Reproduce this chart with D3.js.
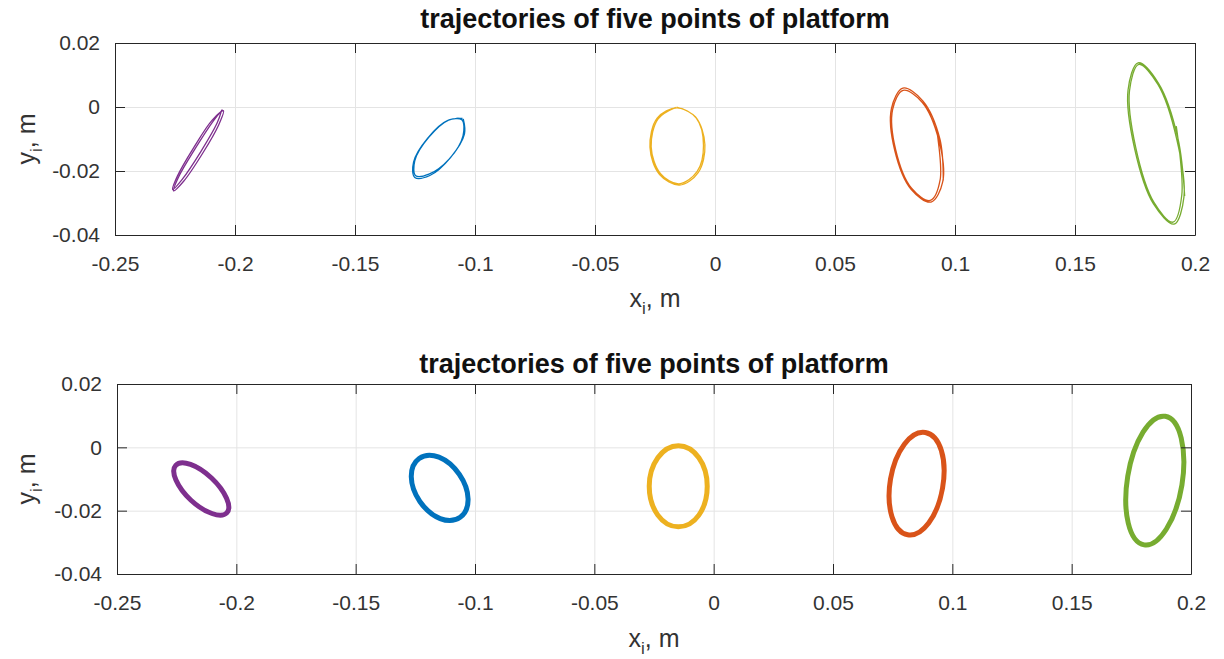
<!DOCTYPE html>
<html>
<head>
<meta charset="utf-8">
<script src="https://cdn.jsdelivr.net/npm/d3@7"></script>
<style>
  body { margin: 0; background: #fff; }
  svg { display: block; font-family: "Liberation Sans", Arial, Helvetica, sans-serif; }
</style>
</head>
<body>
<svg id="chart" width="1224" height="659"></svg>
<script>
// axis ticks / labels
const xTicks = [-0.25, -0.2, -0.15, -0.1, -0.05, 0, 0.05, 0.1, 0.15, 0.2];
const yTicks = [-0.04, -0.02, 0, 0.02];
const xDomain = [-0.25, 0.2];
const yDomain = [-0.04, 0.02];
const titleText = 'trajectories of five points of platform';
const xLabelParts = ['x', 'i', ', m'];
const yLabelParts = ['y', 'i', ', m'];

const seriesNames = ['point 1', 'point 2', 'point 3', 'point 4', 'point 5'];
const seriesColors = ['#7E2F8E', '#0072BD', '#EDB120', '#D95319', '#77AC30'];

// upper plot: a couple of loops of each point (x, y in m)
const topPurple = [[-0.2055,-0.0009],[-0.2075,-0.0051],[-0.2143,-0.0140],[-0.2220,-0.0226],[-0.2260,-0.0258],[-0.2240,-0.0216],[-0.2172,-0.0127],[-0.2095,-0.0041],
  [-0.2048,-0.0012],[-0.2068,-0.0056],[-0.2136,-0.0146],[-0.2214,-0.0232],[-0.2256,-0.0262],[-0.2236,-0.0220],[-0.2166,-0.0130],[-0.2090,-0.0043],[-0.2052,-0.0008]];
const topBlue = [[-0.1049,-0.0037],[-0.1044,-0.0085],[-0.1102,-0.0158],[-0.1188,-0.0214],[-0.1251,-0.0220],[-0.1256,-0.0172],[-0.1198,-0.0098],[-0.1113,-0.0042],
  [-0.1055,-0.0040],[-0.1050,-0.0090],[-0.1108,-0.0163],[-0.1192,-0.0210],[-0.1247,-0.0215],[-0.1251,-0.0168],[-0.1192,-0.0094],[-0.1108,-0.0040],[-0.1052,-0.0036]];
const topYellow = [[-0.0160,0.0000],[-0.0081,-0.0031],[-0.0042,-0.0118],[-0.0070,-0.0205],[-0.0148,-0.0244],[-0.0231,-0.0211],[-0.0271,-0.0126],[-0.0241,-0.0035],
  [-0.0158,-0.0003],[-0.0078,-0.0035],[-0.0048,-0.0120],[-0.0075,-0.0202],[-0.0150,-0.0240],[-0.0227,-0.0208],[-0.0266,-0.0124],[-0.0237,-0.0037],[-0.0163,-0.0001]];
const topOrange = [[0.0922,-0.0062],[0.0938,-0.0228],[0.0897,-0.0292],[0.0819,-0.0254],[0.0753,-0.0134],[0.0740,-0.0008],[0.0784,0.0052],[0.0863,0.0015],
  [0.0932,-0.0102],[0.0949,-0.0233],[0.0900,-0.0297],[0.0817,-0.0257],[0.0749,-0.0136],[0.0735,-0.0005],[0.0783,0.0059],[0.0866,0.0019],[0.0937,-0.0100],[0.0951,-0.0230]];
const topGreen = [[0.1922,-0.0060],[0.1945,-0.0275],[0.1908,-0.0360],[0.1829,-0.0298],[0.1753,-0.0126],[0.1727,0.0050],[0.1766,0.0133],[0.1846,0.0070],
  [0.1924,-0.0101],[0.1954,-0.0281],[0.1913,-0.0366],[0.1827,-0.0303],[0.1748,-0.0129],[0.1721,0.0053],[0.1763,0.0138],[0.1848,0.0074],[0.1929,-0.0098],[0.1957,-0.0278]];

// lower plot: settled closed orbits
const botPurple = [[-0.2040,-0.0207],[-0.2102,-0.0209],[-0.2190,-0.0167],[-0.2253,-0.0103],[-0.2254,-0.0057],[-0.2192,-0.0054],[-0.2104,-0.0097],[-0.2041,-0.0161]];
const botBlue = [[-0.1062,-0.0221],[-0.1146,-0.0225],[-0.1231,-0.0171],[-0.1267,-0.0093],[-0.1234,-0.0035],[-0.1151,-0.0031],[-0.1066,-0.0085],[-0.1029,-0.0163]];
const botYellow = [[-0.0148,0.0005],[-0.0062,-0.0033],[-0.0027,-0.0123],[-0.0062,-0.0214],[-0.0148,-0.0251],[-0.0234,-0.0214],[-0.0270,-0.0123],[-0.0234,-0.0033]];
const botOrange = [[0.0887,0.0047],[0.0954,-0.0010],[0.0959,-0.0129],[0.0901,-0.0239],[0.0813,-0.0276],[0.0747,-0.0219],[0.0741,-0.0100],[0.0799,0.0010]];
const botGreen = [[0.1892,0.0098],[0.1959,0.0029],[0.1962,-0.0119],[0.1897,-0.0258],[0.1804,-0.0308],[0.1737,-0.0239],[0.1735,-0.0091],[0.1799,0.0048]];

const panels = [
  { series: [topPurple, topBlue, topYellow, topOrange, topGreen], closed: false, lineWidth: 1.3,
    left: 115, right: 1195, top: 43, bottom: 235, titleY: 28, xLabelY: 307 },
  { series: [botPurple, botBlue, botYellow, botOrange, botGreen], closed: true, lineWidth: 5,
    left: 117, right: 1191, top: 384, bottom: 574, titleY: 373, xLabelY: 647 }
];

const svg = d3.select('#chart');
const fmt = d => d === 0 ? '0' : String(+d.toFixed(2));
const axisColor = '#262626';
const tickLen = 10;

panels.forEach(p => {
  const x = d3.scaleLinear().domain(xDomain).range([p.left, p.right]);
  const y = d3.scaleLinear().domain(yDomain).range([p.bottom, p.top]);
  const g = svg.append('g');
  const h = p.bottom - p.top;
  const w = p.right - p.left;

  // grid
  g.append('g')
    .attr('transform', `translate(0,${p.bottom})`)
    .call(d3.axisBottom(x).tickValues(xTicks).tickSize(-h).tickFormat(''))
    .call(a => a.select('.domain').remove())
    .call(a => a.selectAll('line').attr('stroke', '#e4e4e4'));
  g.append('g')
    .attr('transform', `translate(${p.left},0)`)
    .call(d3.axisLeft(y).tickValues(yTicks).tickSize(-w).tickFormat(''))
    .call(a => a.select('.domain').remove())
    .call(a => a.selectAll('line').attr('stroke', '#e4e4e4'));

  // trajectories
  const line = d3.line()
    .x(d => x(d[0]))
    .y(d => y(d[1]))
    .curve(p.closed ? d3.curveCardinalClosed.tension(-0.12) : d3.curveCatmullRom.alpha(0.5));
  g.append('g').selectAll('path')
    .data(p.series)
    .join('path')
    .attr('d', line)
    .attr('fill', 'none')
    .attr('stroke', (d, i) => seriesColors[i])
    .attr('stroke-width', p.lineWidth)
    .attr('stroke-linejoin', 'round');

  // axes (box with inward ticks)
  const styleAxis = a => {
    a.select('.domain').attr('stroke', axisColor);
    a.selectAll('.tick line').attr('stroke', axisColor);
    a.selectAll('.tick text').attr('fill', '#333').style('font-size', '21px').style('font-family', 'inherit');
  };
  g.append('g')
    .attr('transform', `translate(0,${p.bottom})`)
    .call(d3.axisBottom(x).tickValues(xTicks).tickSizeInner(-tickLen).tickSizeOuter(0).tickPadding(21).tickFormat(fmt))
    .call(styleAxis);
  g.append('g')
    .attr('transform', `translate(0,${p.top})`)
    .call(d3.axisTop(x).tickValues(xTicks).tickSizeInner(-tickLen).tickSizeOuter(0).tickFormat(''))
    .call(styleAxis);
  g.append('g')
    .attr('transform', `translate(${p.left},0)`)
    .call(d3.axisLeft(y).tickValues(yTicks).tickSizeInner(-tickLen).tickSizeOuter(0).tickPadding(15).tickFormat(fmt))
    .call(styleAxis);
  g.append('g')
    .attr('transform', `translate(${p.right},0)`)
    .call(d3.axisRight(y).tickValues(yTicks).tickSizeInner(-tickLen).tickSizeOuter(0).tickFormat(''))
    .call(styleAxis);

  // title
  g.append('text')
    .attr('x', (p.left + p.right) / 2)
    .attr('y', p.titleY)
    .attr('text-anchor', 'middle')
    .attr('font-size', 27)
    .attr('font-weight', 'bold')
    .attr('fill', '#111')
    .text(titleText);

  // x label
  const xl = g.append('text')
    .attr('x', (p.left + p.right) / 2)
    .attr('y', p.xLabelY)
    .attr('text-anchor', 'middle')
    .attr('font-size', 25)
    .attr('fill', '#333');
  xl.append('tspan').text(xLabelParts[0]);
  xl.append('tspan').attr('font-size', 17).attr('dy', 7).text(xLabelParts[1]);
  xl.append('tspan').attr('dy', -7).text(xLabelParts[2]);

  // y label
  const yl = g.append('text')
    .attr('transform', `translate(35,${(p.top + p.bottom) / 2}) rotate(-90)`)
    .attr('text-anchor', 'middle')
    .attr('font-size', 25)
    .attr('fill', '#333');
  yl.append('tspan').text(yLabelParts[0]);
  yl.append('tspan').attr('font-size', 17).attr('dy', 7).text(yLabelParts[1]);
  yl.append('tspan').attr('dy', -7).text(yLabelParts[2]);
});
</script>
</body>
</html>
